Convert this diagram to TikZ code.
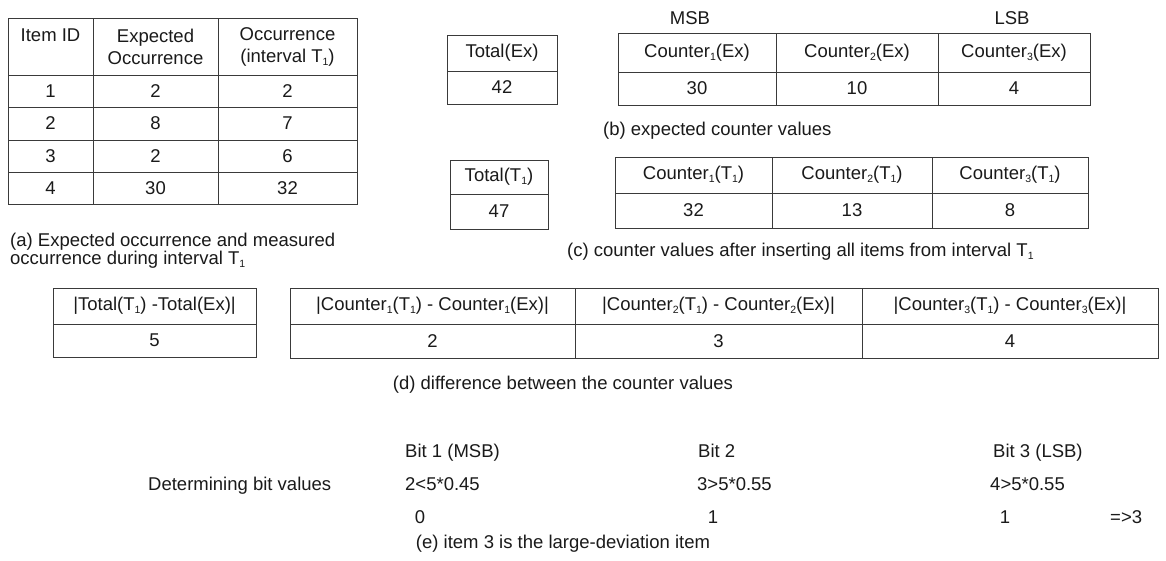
\documentclass[tikz,border=0pt]{standalone}
\usepackage{fontspec}
\setmainfont{Liberation Sans}
\definecolor{linec}{HTML}{3A3A3A}
\definecolor{txt}{HTML}{1A1A1A}
\newcommand\fs{\fontsize{18.5}{22}\selectfont}
\newcommand\sbs[1]{\raisebox{-3pt}{\fontsize{10.5}{10.5}\selectfont #1}}
\tikzset{
  cellst/.style={draw=linec, line width=0.9pt, inner sep=0pt, text=txt, font=\fs, align=center},
  lbl/.style={inner sep=0pt, text=txt, font=\fs},
}
\newcommand\cellbox[6]{\node[cellst, minimum width={(#4-#2)*1pt}, minimum height={(#5-#3)*1pt}] (#1) at ({(#2+#4)/2},{(#3+#5)/2}) {#6};}
\begin{document}
\begin{tikzpicture}[x=1pt,y=-1pt]
\useasboundingbox[fill=white] (0,0) rectangle (1166,560);
% ---- table (a)
\cellbox{ah1}{8}{18}{93}{75}{}
\cellbox{ah2}{93}{18}{218}{75}{Expected\\Occurrence}
\cellbox{ah3}{218}{18}{357}{75}{Occurrence\\(interval T\sbs{1})}
\node[lbl] (ah1t) at (50.5,35) {Item ID};
\cellbox{a11}{8}{75}{93}{107}{1}
\cellbox{a12}{93}{75}{218}{107}{2}
\cellbox{a13}{218}{75}{357}{107}{2}
\cellbox{a21}{8}{107}{93}{140}{2}
\cellbox{a22}{93}{107}{218}{140}{8}
\cellbox{a23}{218}{107}{357}{140}{7}
\cellbox{a31}{8}{140}{93}{172}{3}
\cellbox{a32}{93}{140}{218}{172}{2}
\cellbox{a33}{218}{140}{357}{172}{6}
\cellbox{a41}{8}{172}{93}{204}{4}
\cellbox{a42}{93}{172}{218}{204}{30}
\cellbox{a43}{218}{172}{357}{204}{32}
\node[lbl, anchor=west, align=left, font=\fontsize{18.5}{17}\selectfont] (capa) at (10,251) {(a) Expected occurrence and measured\\occurrence during interval T\sbs{1}};
% ---- (b)
\cellbox{teh}{447}{35}{557}{71}{Total(Ex)}
\cellbox{tev}{447}{71}{557}{104}{42}
\node[lbl] (msb) at (690,18) {MSB};
\node[lbl] (lsb) at (1012,18) {LSB};
\cellbox{c1h}{618}{33}{776}{72}{Counter\sbs{1}(Ex)}
\cellbox{c2h}{776}{33}{938}{72}{Counter\sbs{2}(Ex)}
\cellbox{c3h}{938}{33}{1090}{72}{Counter\sbs{3}(Ex)}
\cellbox{c1v}{618}{72}{776}{105}{30}
\cellbox{c2v}{776}{72}{938}{105}{10}
\cellbox{c3v}{938}{72}{1090}{105}{4}
\node[lbl, anchor=west] (capb) at (603,131) {(b) expected counter values};
% ---- (c)
\cellbox{tth}{450}{160}{548}{194}{Total(T\sbs{1})}
\cellbox{ttv}{450}{194}{548}{229}{47}
\cellbox{d1h}{615}{157}{772}{193}{Counter\sbs{1}(T\sbs{1})}
\cellbox{d2h}{772}{157}{932}{193}{Counter\sbs{2}(T\sbs{1})}
\cellbox{d3h}{932}{157}{1088}{193}{Counter\sbs{3}(T\sbs{1})}
\cellbox{d1v}{615}{193}{772}{228}{32}
\cellbox{d2v}{772}{193}{932}{228}{13}
\cellbox{d3v}{932}{193}{1088}{228}{8}
\node[lbl, anchor=west] (capc) at (567,252) {(c) counter values after inserting all items from interval T\sbs{1}};
% ---- (d)
\cellbox{dth}{53}{288}{256}{324}{|Total(T\sbs{1}) -Total(Ex)|}
\cellbox{dtv}{53}{324}{256}{357}{5}
\cellbox{e1h}{290}{288}{575}{324}{|Counter\sbs{1}(T\sbs{1}) - Counter\sbs{1}(Ex)|}
\cellbox{e2h}{575}{288}{862}{324}{|Counter\sbs{2}(T\sbs{1}) - Counter\sbs{2}(Ex)|}
\cellbox{e3h}{862}{288}{1158}{324}{|Counter\sbs{3}(T\sbs{1}) - Counter\sbs{3}(Ex)|}
\cellbox{e1v}{290}{324}{575}{358}{2}
\cellbox{e2v}{575}{324}{862}{358}{3}
\cellbox{e3v}{862}{324}{1158}{358}{4}
\node[lbl] (capd) at (563,385) {(d) difference between the counter values};
% ---- (e)
\node[lbl, anchor=base west] (det) at (148,490) {Determining bit values};
\node[lbl, anchor=base west] (b1) at (405,457) {Bit 1 (MSB)};
\node[lbl, anchor=base west] (b1c) at (405,490) {2<5*0.45};
\node[lbl, anchor=base] (b1v) at (420,523) {0};
\node[lbl, anchor=base west] (b2) at (698,457) {Bit 2};
\node[lbl, anchor=base west] (b2c) at (697,490) {3>5*0.55};
\node[lbl, anchor=base] (b2v) at (713,523) {1};
\node[lbl, anchor=base west] (b3) at (993,457) {Bit 3 (LSB)};
\node[lbl, anchor=base west] (b3c) at (990,490) {4>5*0.55};
\node[lbl, anchor=base] (b3v) at (1005,523) {1};
\node[lbl, anchor=base west] (res) at (1110,523) {=>3};
\node[lbl] (cape) at (563,544) {(e) item 3 is the large-deviation item};
\end{tikzpicture}
\end{document}
